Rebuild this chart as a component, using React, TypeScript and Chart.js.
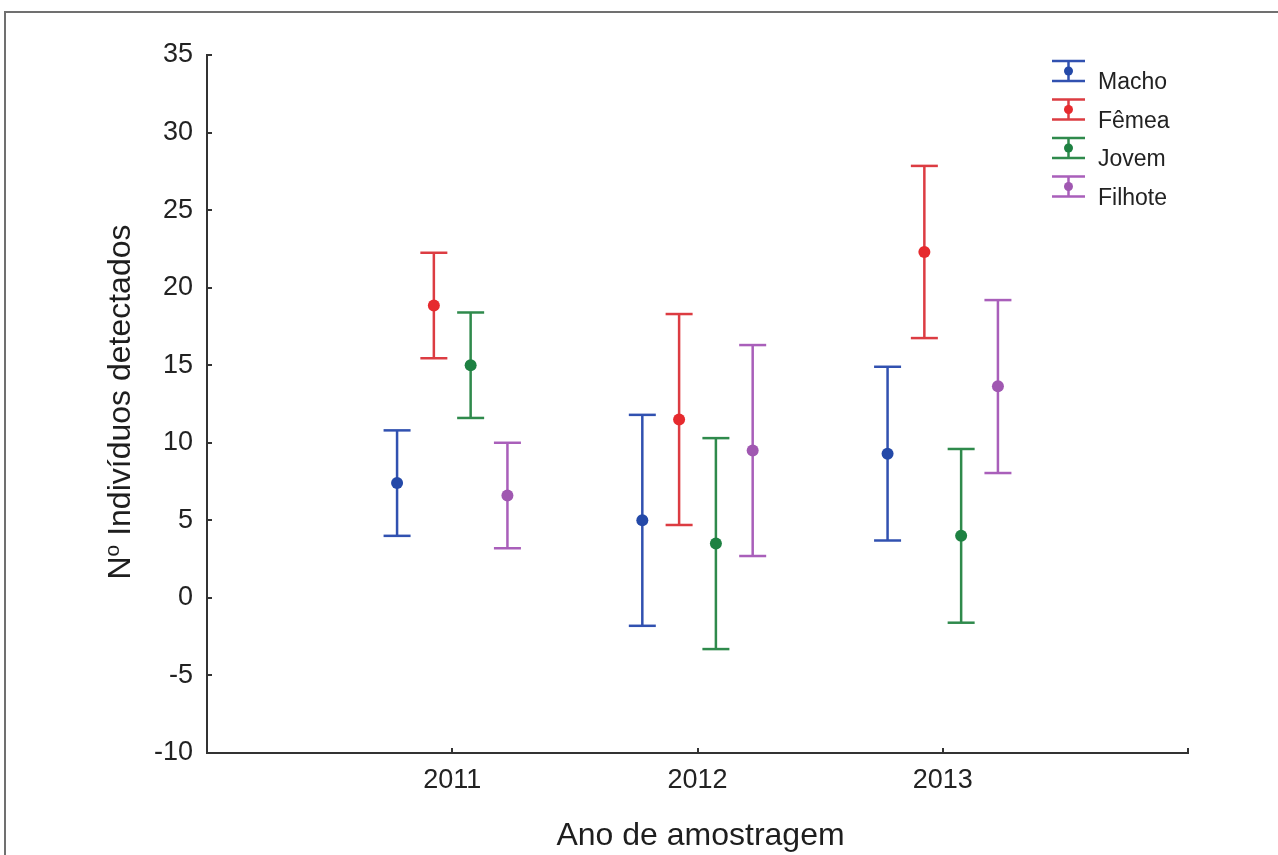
import React, { useEffect, useRef } from 'react';
import { Chart, registerables } from 'chart.js';

Chart.register(...registerables);

// ---- data ----
const years = [2011, 2012, 2013];
const seriesNames = ['Macho', 'Fêmea', 'Jovem', 'Filhote'];
const seriesOffsets = [-0.225, -0.075, 0.075, 0.225];

const machoMean = [7.4, 5.0, 9.3];
const machoLow = [4.0, -1.8, 3.7];
const machoHigh = [10.8, 11.8, 14.9];

const femeaMean = [18.85, 11.5, 22.3];
const femeaLow = [15.45, 4.7, 16.75];
const femeaHigh = [22.25, 18.3, 27.85];

const jovemMean = [15.0, 3.5, 4.0];
const jovemLow = [11.6, -3.3, -1.6];
const jovemHigh = [18.4, 10.3, 9.6];

const filhoteMean = [6.6, 9.5, 13.65];
const filhoteLow = [3.2, 2.7, 8.05];
const filhoteHigh = [10.0, 16.3, 19.2];

const yTickValues = [-10, -5, 0, 5, 10, 15, 20, 25, 30, 35];
const xTickValues = [2010, 2011, 2012, 2013, 2014];

const xTitle = 'Ano de amostragem';
const yTitleMain = 'N';
const yTitleSup = 'o';
const yTitleRest = ' Indivíduos detectados';

const lineColors = ['#3151b0', '#dc3c42', '#2f8a4c', '#a95fba'];
const dotColors = ['#2449a8', '#e62a2e', '#1e8142', '#a058b1'];

const FONT = '"Liberation Sans", Arial, Helvetica, sans-serif';

const means = [machoMean, femeaMean, jovemMean, filhoteMean];
const lows = [machoLow, femeaLow, jovemLow, filhoteLow];
const highs = [machoHigh, femeaHigh, jovemHigh, filhoteHigh];

const decorPlugin = {
  id: 'decor',
  beforeDraw(chart: any) {
    const ctx = chart.ctx;
    ctx.save();
    ctx.strokeStyle = '#707070';
    ctx.lineWidth = 2;
    ctx.strokeRect(5, 12, 1300, 900);
    ctx.restore();
  },
  afterDraw(chart: any) {
    const ctx = chart.ctx;
    const xs = chart.scales.x;
    const ys = chart.scales.y;
    const area = chart.chartArea;
    ctx.save();
    // inward ticks
    ctx.strokeStyle = '#333';
    ctx.lineWidth = 2;
    ctx.beginPath();
    yTickValues.forEach((v) => {
      const py = Math.round(ys.getPixelForValue(v));
      ctx.moveTo(area.left, py);
      ctx.lineTo(area.left + 5, py);
    });
    xTickValues.forEach((v) => {
      const px = Math.round(xs.getPixelForValue(v));
      ctx.moveTo(px, area.bottom);
      ctx.lineTo(px, area.bottom - 5);
    });
    ctx.stroke();

    // axis titles
    ctx.fillStyle = '#1e1e1e';
    ctx.font = `32px ${FONT}`;
    ctx.textAlign = 'center';
    ctx.textBaseline = 'alphabetic';
    ctx.fillText(xTitle, (area.left + area.right) / 2 + 3, 845);

    ctx.save();
    ctx.translate(130, 402);
    ctx.rotate(-Math.PI / 2);
    ctx.font = `32px ${FONT}`;
    const wN = ctx.measureText(yTitleMain).width;
    ctx.font = `21px ${FONT}`;
    const wO = ctx.measureText(yTitleSup).width;
    ctx.font = `32px ${FONT}`;
    const wR = ctx.measureText(yTitleRest).width;
    const total = wN + wO + wR;
    let cx = -total / 2;
    ctx.textAlign = 'left';
    ctx.fillText(yTitleMain, cx, 0);
    cx += wN;
    ctx.font = `21px ${FONT}`;
    ctx.fillText(yTitleSup, cx, -11);
    cx += wO;
    ctx.font = `32px ${FONT}`;
    ctx.fillText(yTitleRest, cx, 0);
    ctx.restore();

    // legend
    seriesNames.forEach((name, i) => {
      const cy = 71 + i * 38.5;
      ctx.strokeStyle = lineColors[i];
      ctx.lineWidth = 2.5;
      ctx.beginPath();
      ctx.moveTo(1052, cy - 10);
      ctx.lineTo(1085, cy - 10);
      ctx.moveTo(1052, cy + 10);
      ctx.lineTo(1085, cy + 10);
      ctx.moveTo(1068.5, cy - 10);
      ctx.lineTo(1068.5, cy + 10);
      ctx.stroke();
      ctx.fillStyle = dotColors[i];
      ctx.beginPath();
      ctx.arc(1068.5, cy, 4.5, 0, Math.PI * 2);
      ctx.fill();
      ctx.fillStyle = '#222';
      ctx.font = `23px ${FONT}`;
      ctx.textAlign = 'left';
      ctx.textBaseline = 'alphabetic';
      ctx.fillText(name, 1098, cy + 18);
    });
    ctx.restore();
  },
};

export default function App() {
  const ref = useRef<HTMLCanvasElement | null>(null);

  useEffect(() => {
    document.body.style.margin = '0';
    const canvas = ref.current;
    if (!canvas) return;

    const meanSets = seriesNames.map((name, s) => ({
      type: 'scatter' as const,
      label: name,
      order: 0,
      data: years.map((yr, k) => ({ x: yr + seriesOffsets[s], y: means[s][k] })),
      pointRadius: 6,
      pointHoverRadius: 6,
      pointBackgroundColor: dotColors[s],
      pointBorderWidth: 0,
      showLine: false,
    }));

    const errSets = seriesNames.map((name, s) => ({
      type: 'line' as const,
      label: name + ' IC',
      order: 1,
      data: years.flatMap((yr, k) => [
        { x: yr + seriesOffsets[s], y: lows[s][k] },
        { x: yr + seriesOffsets[s], y: highs[s][k] },
        { x: yr + seriesOffsets[s], y: null },
      ]),
      borderColor: lineColors[s],
      borderWidth: 2.5,
      pointStyle: 'line' as const,
      pointRadius: 13.5,
      pointHoverRadius: 13.5,
      pointBorderColor: lineColors[s],
      pointBorderWidth: 2.5,
      spanGaps: false,
      showLine: true,
      fill: false,
      tension: 0,
    }));

    const chart = new Chart(canvas, {
      type: 'scatter',
      data: { datasets: [...meanSets, ...errSets] as any },
      options: {
        animation: false,
        responsive: false,
        events: [],
        layout: { padding: { left: 0, right: 90, top: 55, bottom: 0 } },
        plugins: { legend: { display: false }, tooltip: { enabled: false } },
        scales: {
          x: {
            type: 'linear',
            min: 2010,
            max: 2014,
            afterFit: (s: any) => { s.height = 102; },
            ticks: {
              stepSize: 1,
              autoSkip: false,
              maxRotation: 0,
              padding: 11,
              color: '#222',
              font: { family: FONT, size: 27 },
              callback: (v: any) => (v >= 2011 && v <= 2013 ? String(v) : ''),
            },
            grid: { display: false, drawTicks: false },
            border: { display: true, color: '#333', width: 2 },
          },
          y: {
            type: 'linear',
            min: -10,
            max: 35,
            afterFit: (s: any) => { s.width = 207; },
            ticks: {
              stepSize: 5,
              autoSkip: false,
              padding: 14,
              color: '#222',
              font: { family: FONT, size: 27 },
            },
            grid: { display: false, drawTicks: false },
            border: { display: true, color: '#333', width: 2 },
          },
        },
      },
      plugins: [decorPlugin],
    });

    return () => chart.destroy();
  }, []);

  return (
    <div style={{ width: 1278, height: 855, position: 'relative', background: '#fff' }}>
      <canvas ref={ref} width={1278} height={855} style={{ display: 'block' }} />
    </div>
  );
}
